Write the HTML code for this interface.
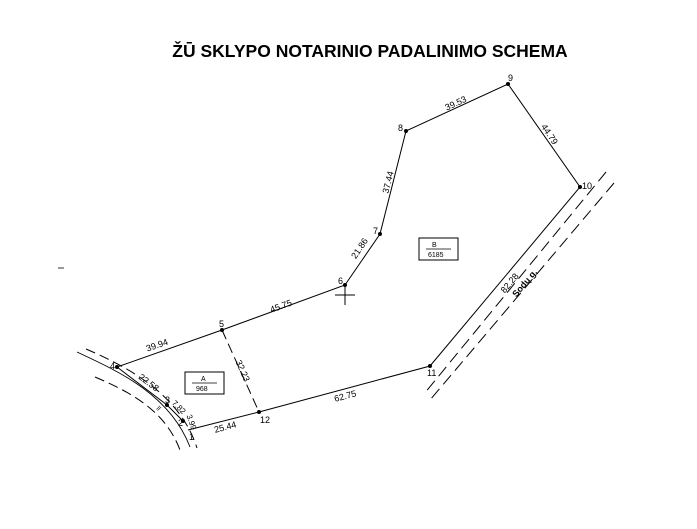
<!DOCTYPE html>
<html><head><meta charset="utf-8"><style>
html,body{margin:0;padding:0;background:#fff;width:697px;height:529px;overflow:hidden}
svg{display:block}
text{font-family:"Liberation Sans",sans-serif;fill:#000}
</style></head><body>
<svg width="697" height="529" viewBox="0 0 697 529" xmlns="http://www.w3.org/2000/svg">
<text x="370" y="57" font-size="17.5" font-weight="bold" text-anchor="middle">ŽŪ SKLYPO NOTARINIO PADALINIMO SCHEMA</text>
<line x1="58" y1="268" x2="64" y2="268" stroke="#000" stroke-width="0.8"/>
<g fill="none" stroke="#000" stroke-width="1">
<polyline points="117,367 222,330 345,285 380,234 406,131 508,84 580,187 430,366 259,412 188,430"/>
<polyline points="117,367 167,405 183,421"/>
<line x1="222" y1="330" x2="259" y2="412" stroke-dasharray="10,5"/>
<line x1="606" y1="172" x2="424" y2="394" stroke-dasharray="12,6"/>
<line x1="614" y1="183" x2="430" y2="400" stroke-dasharray="12,6"/>
<path d="M77,352 C120,372 170,395 190,447" stroke-width="0.9"/>
<path d="M86,349 C130,368 180,395 197,448" stroke-dasharray="10,5"/>
<path d="M95,377 C130,392 165,410 180,450" stroke-dasharray="10,5"/>
<line x1="335" y1="295" x2="355" y2="295"/>
<line x1="345" y1="286" x2="345" y2="305"/>
<rect x="419" y="238" width="39" height="22"/>
<line x1="426" y1="249" x2="451" y2="249" stroke-width="0.7"/>
<rect x="185" y="372" width="39" height="22"/>
<line x1="192" y1="383" x2="217" y2="383" stroke-width="0.7"/>
</g>
<g fill="#000">
<circle cx="117" cy="367" r="2"/><circle cx="222" cy="330" r="2"/><circle cx="345" cy="285" r="2"/>
<circle cx="380" cy="234" r="2"/><circle cx="406" cy="131" r="2"/><circle cx="508" cy="84" r="2"/>
<circle cx="580" cy="187" r="2"/><circle cx="430" cy="366" r="2"/><circle cx="259" cy="412" r="2"/>
<circle cx="183" cy="421" r="2"/><circle cx="167" cy="405" r="2"/>
</g>
<g font-size="9">
<text x="110" y="369">4</text><text x="219" y="327">5</text><text x="338" y="284">6</text>
<text x="373" y="234">7</text><text x="398" y="131">8</text><text x="508" y="81">9</text>
<text x="582" y="189">10</text><text x="427" y="376">11</text><text x="260" y="423">12</text>
<text x="189" y="440">1</text><text x="178" y="426">2</text><text x="165" y="403">3</text>
<text x="432" y="247" font-size="7">B</text><text x="428" y="257" font-size="7">6185</text>
<text x="201" y="381" font-size="7">A</text><text x="196" y="391" font-size="7">968</text>
<text transform="translate(158,348) rotate(-19)" text-anchor="middle">39.94</text>
<text transform="translate(282,309) rotate(-20)" text-anchor="middle">45.75</text>
<text transform="translate(362,250) rotate(-56)" text-anchor="middle">21.86</text>
<text transform="translate(391,183) rotate(-76)" text-anchor="middle">37.44</text>
<text transform="translate(457,106) rotate(-25)" text-anchor="middle">39.53</text>
<text transform="translate(547,136) rotate(56)" text-anchor="middle">44.79</text>
<text transform="translate(512,285) rotate(-50)" text-anchor="middle">82.28</text>
<text transform="translate(527,285) rotate(-50)" text-anchor="middle" font-weight="bold">Sodų g.</text>
<text transform="translate(240,372) rotate(66)" text-anchor="middle">32.23</text>
<text transform="translate(346,399) rotate(-15)" text-anchor="middle">62.75</text>
<text transform="translate(226,430) rotate(-15)" text-anchor="middle">25.44</text>
<text transform="translate(147,385) rotate(37)" text-anchor="middle">22.58</text>
<text transform="translate(177,409) rotate(45)" text-anchor="middle" font-size="8">7.82</text>
<text transform="translate(189,423) rotate(70)" text-anchor="middle" font-size="8">3.99</text>
<text transform="translate(157,410) rotate(45)" text-anchor="middle" font-size="7">ll</text>
</g>
</svg>
</body></html>
